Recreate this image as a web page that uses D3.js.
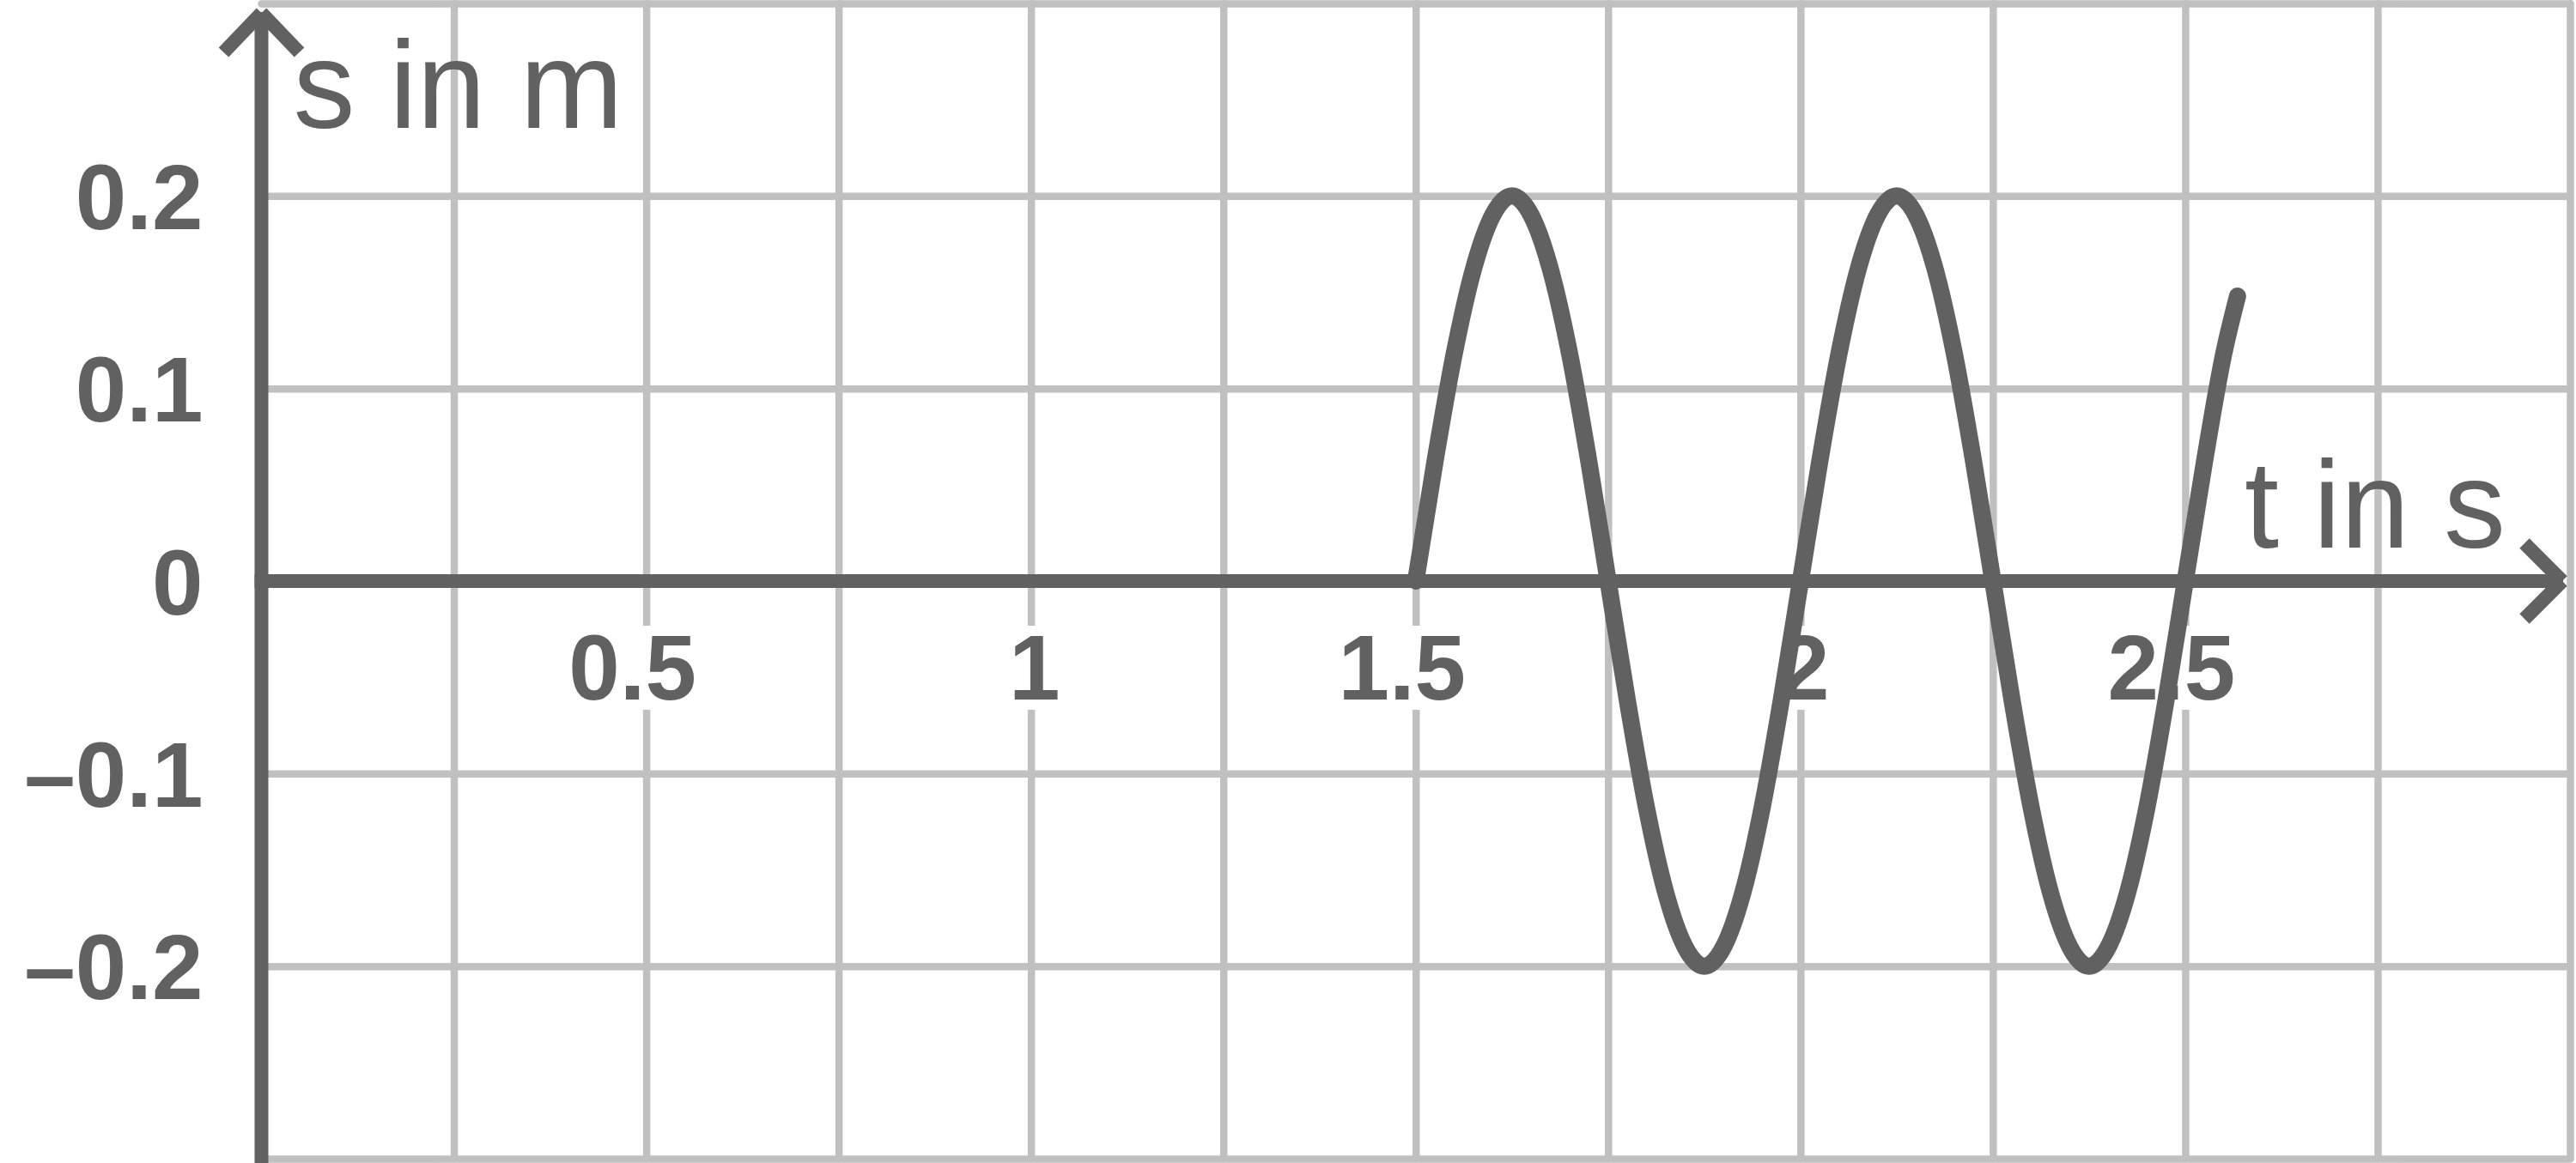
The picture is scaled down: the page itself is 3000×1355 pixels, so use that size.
<!DOCTYPE html>
<meta charset="utf-8">
<style>
body { margin: 0; background: #fff; }
svg { display: block; }
.grid line { stroke: #c0c0c0; stroke-width: 8.5px; stroke-linecap: round; }
.grid .domain { display: none; }
.axisline { stroke: #616161; stroke-width: 16px; fill: none; }
.curve { stroke: #616161; stroke-width: 20px; fill: none; stroke-linecap: round; stroke-linejoin: round; }
.tick-label { font: bold 107px "Liberation Sans", Arial, Helvetica, sans-serif; fill: #616161; }
.title { font: 144px "Liberation Sans", Arial, Helvetica, sans-serif; fill: #616161; }
</style>
<body>
<script src="https://cdn.jsdelivr.net/npm/d3@7"></script>
<script>

// values: time in s, displacement in m
var times = [1.5, 1.525, 1.55, 1.575, 1.6, 1.625, 1.65, 1.675, 1.7, 1.725,
             1.75, 1.775, 1.8, 1.825, 1.85, 1.875, 1.9, 1.925, 1.95, 1.975,
             2, 2.025, 2.05, 2.075, 2.1, 2.125, 2.15, 2.175, 2.2, 2.225,
             2.25, 2.275, 2.3, 2.325, 2.35, 2.375, 2.4, 2.425, 2.45, 2.475,
             2.5, 2.525, 2.55, 2.568]
var displacement = [0, 0.062, 0.118, 0.162, 0.19, 0.2, 0.19, 0.162, 0.118, 0.062,
                    0, -0.062, -0.118, -0.162, -0.19, -0.2, -0.19, -0.162, -0.118, -0.062,
                    0, 0.062, 0.118, 0.162, 0.19, 0.2, 0.19, 0.162, 0.118, 0.062,
                    0, -0.062, -0.118, -0.162, -0.19, -0.2, -0.19, -0.162, -0.118, -0.062,
                    0, 0.062, 0.118, 0.148]

var xGridValues = [0.25, 0.5, 0.75, 1, 1.25, 1.5, 1.75, 2, 2.25, 2.5, 2.75, 3]
var yGridValues = [0.3, 0.2, 0.1, -0.1, -0.2, -0.3]
var xTickValues = [0.5, 1, 1.5, 2, 2.5]
var xTickLabels = ["0.5", "1", "1.5", "2", "2.5"]
var yTickValues = [0.2, 0.1, 0, -0.1, -0.2]
var yTickLabels = ["0.2", "0.1", "0", "\u20130.1", "\u20130.2"]
var xTitle = "t in s"
var yTitle = "s in m"

var width = 3000,
    height = 1355;

var x = d3.scaleLinear().domain([0, 3]).range([304.5, 2993]);
var y = d3.scaleLinear().domain([-0.3, 0.3]).range([1350, 4]);

var svg = d3.select("body").append("svg")
    .attr("width", width)
    .attr("height", height);

// grid
svg.append("g")
    .attr("class", "grid")
    .attr("transform", "translate(0," + y(-0.3) + ")")
    .call(d3.axisBottom(x).tickValues(xGridValues)
      .tickSize(-(y(-0.3) - y(0.3))).tickFormat(""));

svg.append("g")
    .attr("class", "grid")
    .attr("transform", "translate(" + x(0) + ",0)")
    .call(d3.axisLeft(y).tickValues(yGridValues)
      .tickSize(-(x(3) - x(0))).tickFormat(""));

svg.selectAll(".grid .tick line").attr("stroke", null);

// x tick labels on white patches
var xl = svg.append("g").selectAll("g")
    .data(xTickValues)
  .enter().append("g");

xl.append("rect").attr("fill", "#fff");
xl.append("text")
    .attr("class", "tick-label")
    .attr("text-anchor", "middle")
    .attr("x", function(d, i) { return x(d) + (xTickLabels[i].length > 1 ? -16 : 4); })
    .attr("y", y(0) + 138)
    .text(function(d, i) { return xTickLabels[i]; });

xl.each(function() {
  var t = d3.select(this).select("text")
  var w = t.node().getComputedTextLength()
  var cx = +t.attr("x"), by = +t.attr("y")
  d3.select(this).select("rect")
    .attr("x", cx - w / 2 - 6)
    .attr("width", w + 12)
    .attr("y", by - 86)
    .attr("height", 98)
})

// y tick labels
svg.append("g").selectAll("text")
    .data(yTickValues)
  .enter().append("text")
    .attr("class", "tick-label")
    .attr("text-anchor", "end")
    .attr("x", x(0) - 68)
    .attr("y", function(d) { return y(d); })
    .attr("dy", "0.36em")
    .text(function(d, i) { return yTickLabels[i]; });

// axis titles
svg.append("text")
    .attr("class", "title")
    .attr("x", x(0) + 37)
    .attr("y", y(0.3) + 145)
    .text(yTitle);

svg.append("text")
    .attr("class", "title")
    .attr("x", x(2.5) + 69)
    .attr("y", y(0) - 39)
    .text(xTitle);

// axes with open arrow heads
var x0 = x(0), y0 = y(0)
var yTip = y(0.3) + 10, xTip = x(3) - 8

svg.append("line").attr("class", "axisline")
    .attr("x1", x0).attr("y1", height).attr("x2", x0).attr("y2", yTip);
svg.append("line").attr("class", "axisline")
    .attr("x1", x0 - 8).attr("y1", y0).attr("x2", xTip).attr("y2", y0);

[-1, 1].forEach(function(s) {
  svg.append("line").attr("class", "axisline")
      .attr("x1", x0 + s * 44).attr("y1", yTip + 47)
      .attr("x2", x0).attr("y2", yTip + 1);
  svg.append("line").attr("class", "axisline")
      .attr("x1", xTip - 45).attr("y1", y0 + s * 44)
      .attr("x2", xTip - 1).attr("y2", y0);
})

// the oscillation
var line = d3.line()
    .x(function(d) { return x(d[0]); })
    .y(function(d) { return y(d[1]); })
    .curve(d3.curveMonotoneX);

svg.append("path")
    .attr("class", "curve")
    .attr("d", line(times.map(function(t, i) { return [t, displacement[i]]; })));

</script>
</body>
</html>
